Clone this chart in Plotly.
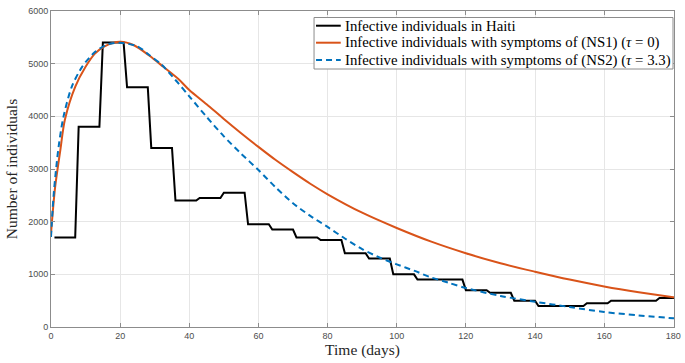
import plotly.graph_objects as go

# Weekly reported infective individuals in Haiti (week start day, value)
week_start = [1, 8, 15, 22, 29, 36, 43, 50, 57, 64, 71, 78, 85, 92, 99, 106,
              113, 120, 127, 134, 141, 148, 155, 162, 169, 176]
haiti_cases = [1700, 3800, 5400, 4550, 3400, 2400, 2450, 2550, 1950, 1850, 1700,
               1650, 1400, 1300, 1000, 900, 900, 700, 650, 500, 400, 400, 450,
               500, 500, 550]
week_len = 6

# Model (NS1), tau = 0
t_ns1 = [0, 1.2, 2.7, 4, 7, 10, 12.7, 15.5, 20, 24, 28.5, 32.5, 37, 40, 45, 50,
         55, 60, 65, 70, 75, 80, 90, 100, 110, 120, 130, 140, 150, 160, 170, 180, 181]
y_ns1 = [1780, 2660, 3360, 3930, 4560, 4940, 5190, 5330, 5415, 5350, 5150, 4940,
         4700, 4500, 4230, 3950, 3680, 3420, 3170, 2940, 2720, 2520, 2170, 1880,
         1620, 1400, 1210, 1050, 900, 770, 660, 565, 555]

# Model (NS2), tau = 3.3
t_ns2 = [0, 0.8, 2.2, 3.6, 6, 9, 12.7, 16.5, 20, 25, 28.5, 32, 36, 40, 45, 50,
         55, 60, 65, 70, 75, 80, 85, 90, 95, 100, 105, 110, 115, 120, 130, 140,
         150, 160, 170, 180, 181]
y_ns2 = [1710, 2540, 3420, 3990, 4560, 4940, 5220, 5370, 5395, 5330, 5160, 4980,
         4690, 4380, 3990, 3620, 3290, 2980, 2650, 2350, 2110, 1900, 1680, 1480,
         1320, 1190, 1070, 940, 840, 740, 590, 480, 380, 285, 220, 165, 160]

x_ticks = [0, 20, 40, 60, 80, 100, 120, 140, 160, 180]
y_ticks = [0, 1000, 2000, 3000, 4000, 5000, 6000]

names = ["Infective individuals in Haiti",
         "Infective individuals with symptoms of (NS1) (<i>τ</i> = 0)",
         "Infective individuals with symptoms of (NS2) (<i>τ</i> = 3.3)"]
colors = ["#000000", "#D95319", "#0072BD"]
dashes = ["solid", "solid", "6px,4px"]

# staircase built from weekly data
hx, hy = [], []
for s, v in zip(week_start, haiti_cases):
    hx += [s, s + week_len]
    hy += [v, v]

serif = "Liberation Serif, Times New Roman, serif"
W, H = 685, 363
ML, MR, MT, MB = 51, 4, 11, 36
PW, PH = W - ML - MR, H - MT - MB

fig = go.Figure()
fig.add_trace(go.Scatter(x=hx, y=hy, mode="lines", name=names[0],
                         line=dict(color=colors[0], width=2)))
fig.add_trace(go.Scatter(x=t_ns1, y=y_ns1, mode="lines", name=names[1],
                         line=dict(color=colors[1], width=2, shape="spline", smoothing=0.8)))
fig.add_trace(go.Scatter(x=t_ns2, y=y_ns2, mode="lines", name=names[2],
                         line=dict(color=colors[2], width=2, dash=dashes[2], shape="spline", smoothing=0.8)))

axis_common = dict(showline=True, linecolor="#8c8c8c", linewidth=1, mirror="ticks",
                   ticks="inside", ticklen=4, tickcolor="#8c8c8c",
                   showgrid=True, gridcolor="#e6e6e6", gridwidth=1, zeroline=False,
                   ticklabeloverflow="allow",
                   tickfont=dict(family="Liberation Sans", size=9, color="#4d4d4d"))

fig.update_xaxes(range=[0, 180.2], tickvals=x_ticks, ticktext=[str(v) for v in x_ticks],
                 title=dict(text="Time (days)", font=dict(family=serif, size=15.5, color="#262626"),
                            standoff=4),
                 **axis_common)
fig.update_yaxes(range=[0, 6000], tickvals=y_ticks, ticktext=[str(v) for v in y_ticks],
                 title=dict(text="Number of individuals", font=dict(family=serif, size=15.5, color="#262626"),
                            standoff=6),
                 **axis_common)

# Custom legend box (pixel layout converted to paper coordinates)
def px(xp):
    return (xp - ML) / PW

def py(yp):
    return (H - MB - yp) / PH

shapes = [dict(type="rect", xref="paper", yref="paper",
               x0=px(317), x1=px(680), y0=py(69), y1=py(17.5),
               line=dict(color="#8c8c8c", width=1), fillcolor="white", layer="above")]
annotations = []
row_y = [25.7, 42.7, 60]
for name, c, d, ry in zip(names, colors, dashes, row_y):
    shapes.append(dict(type="line", xref="paper", yref="paper",
                       x0=px(319), x1=px(344), y0=py(ry), y1=py(ry),
                       line=dict(color=c, width=2, dash=d), layer="above"))
    annotations.append(dict(xref="paper", yref="paper", x=px(346), y=py(ry),
                            xanchor="left", yanchor="middle", showarrow=False,
                            text=name, font=dict(family=serif, size=14.8, color="#000000")))

fig.update_layout(
    width=W, height=H,
    margin=dict(l=ML, r=MR, t=MT, b=MB),
    plot_bgcolor="white", paper_bgcolor="white",
    font=dict(family=serif),
    showlegend=False,
    shapes=shapes,
    annotations=annotations,
)

fig.write_html("out.html")
